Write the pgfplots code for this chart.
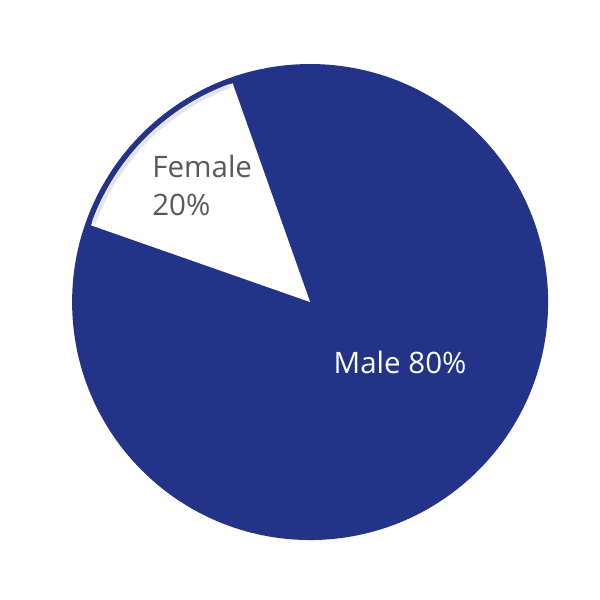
\documentclass[border=0pt]{standalone}
\usepackage{pgfplots}
\pgfplotsset{compat=1.18}
\usepackage{fontspec}
\setmainfont{Open Sans}
\definecolor{maleblue}{HTML}{223388}
\definecolor{labelgray}{HTML}{595959}

\begin{document}
\begin{tikzpicture}
  \begin{axis}[
      hide axis,
      scale only axis,
      width=6cm, height=6cm,
      xmin=-1.303, xmax=1.218,
      ymin=-1.252, ymax=1.269,
      disabledatascaling,
      clip=false]
    % keep the whole axis box as the picture's size
    \path (rel axis cs:0,0) rectangle (rel axis cs:1,1);
    % Male: the whole disc, Female slice laid over it
    \fill[maleblue] (axis cs:0,0) circle[radius=1];
    \fill[white] (axis cs:0,0)
        -- (axis cs:{0.975*cos(109.5)},{0.975*sin(109.5)})
        arc[start angle=109.5, end angle=160.7, radius=0.975] -- cycle;
    \draw[black!10, line width=1.2pt]
        (axis cs:{0.968*cos(110.5)},{0.968*sin(110.5)})
        arc[start angle=110.5, end angle=159.7, radius=0.968];

    \node[anchor=west, align=left, text=labelgray,
          font=\fontsize{8.4}{10.8}\selectfont]
        at (axis cs:-0.715,0.49) {Female\\20\%};
    \node[text=white, font=\fontsize{8.4}{10.8}\selectfont]
        at (axis cs:0.378,-0.252) {Male 80\%};
  \end{axis}
\end{tikzpicture}
\end{document}
